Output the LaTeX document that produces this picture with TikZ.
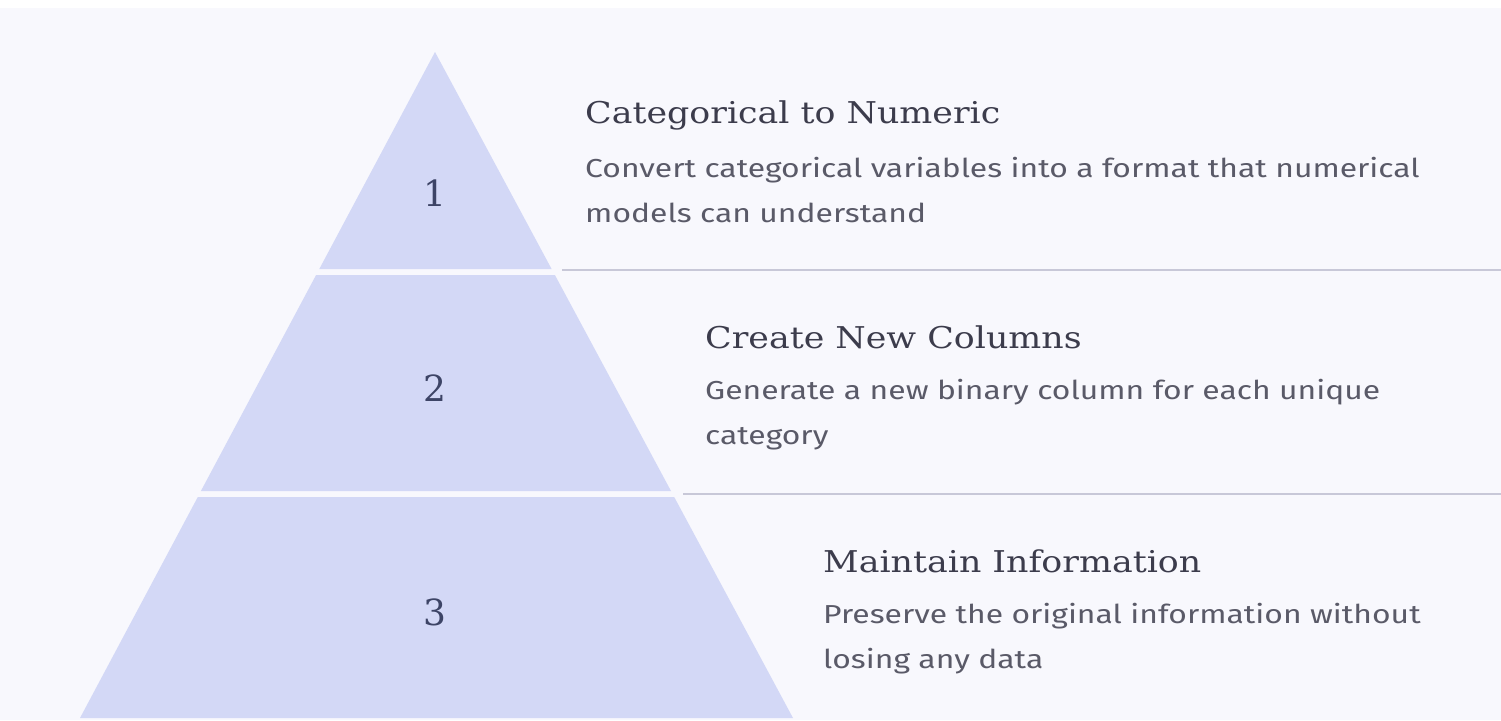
\documentclass[tikz,border=0pt]{standalone}
\usepackage{fontspec}
\newfontfamily\headfont[FakeStretch=1.16]{DejaVu Serif}
\newfontfamily\numfont{DejaVu Serif}
\newfontfamily\bodyfont[FakeStretch=1.225]{Fira Sans}
\definecolor{pagebg}{HTML}{F8F8FD}
\definecolor{tierfill}{HTML}{D3D8F6}
\definecolor{rulecol}{HTML}{C8C8D8}
\definecolor{headcol}{HTML}{3C3C4C}
\definecolor{bodycol}{HTML}{5A5A68}
\definecolor{numcol}{HTML}{3D4466}
\tikzset{
  tier/.style={fill=tierfill, draw=none},
  rule/.style={draw=rulecol, line width=2.2pt},
  tiernum/.style={font=\numfont\fontsize{36}{40}\selectfont, text=numcol, inner sep=0pt},
  heading/.style={font=\headfont\fontsize{30}{34}\selectfont, text=headcol, anchor=base west, inner sep=0pt},
  bodyline/.style={font=\bodyfont\fontsize{26}{30}\selectfont, text=bodycol, anchor=base west, inner sep=0pt}
}
\begin{document}
\begin{tikzpicture}[x=1pt, y=-1pt]
\useasboundingbox (0,0) rectangle (1501,720);
% page background
\fill[pagebg] (0,0) rectangle (1501,720);
\fill[white] (0,0) rectangle (1501,8);

% pyramid tiers
\path[tier] (435,52) -- (551.6,269) -- (319.3,269) -- cycle;
\path[tier] (316.1,275) -- (554.9,275) -- (671,491) -- (200.9,491) -- cycle;
\path[tier] (197.8,497) -- (674.2,497) -- (793,718) -- (80,718) -- cycle;

% tier numbers
\node[tiernum] (n1) at (435,193) {1};
\node[tiernum] (n2) at (435,388) {2};
\node[tiernum] (n3) at (435,612) {3};

% separator rules
\coordinate (r1a) at (562,270);
\coordinate (r1b) at (1501,270);
\coordinate (r2a) at (683,494);
\coordinate (r2b) at (1501,494);
\draw[rule] (r1a) -- (r1b);
\draw[rule] (r2a) -- (r2b);

% tier 1 text
\node[heading] (h1) at (585,123) {Categorical to Numeric};
\node[bodyline] (b1a) at (585,177) {Convert categorical variables into a format that numerical};
\node[bodyline] (b1b) at (585,222) {models can understand};

% tier 2 text
\node[heading] (h2) at (705,348) {Create New Columns};
\node[bodyline] (b2a) at (705,399) {Generate a new binary column for each unique};
\node[bodyline] (b2b) at (705,444) {category};

% tier 3 text
\node[heading] (h3) at (823,572) {Maintain Information};
\node[bodyline] (b3a) at (823,623) {Preserve the original information without};
\node[bodyline] (b3b) at (823,668) {losing any data};
\end{tikzpicture}
\end{document}
